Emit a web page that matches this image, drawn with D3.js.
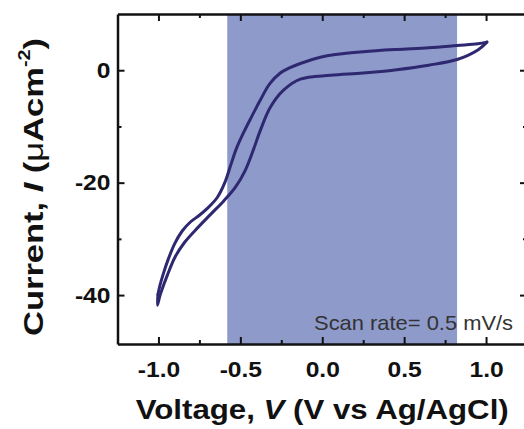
<!DOCTYPE html>
<html>
<head>
<meta charset="utf-8">
<script src="https://cdn.jsdelivr.net/npm/d3@7"></script>
<style>
  body { margin: 0; background: white; }
  text { font-family: "Liberation Sans", Arial, sans-serif; }
</style>
</head>
<body>
<div id="chart"></div>
<script>
// datos (voltametria ciclica)
var xTicks = [-1.0, -0.5, 0.0, 0.5, 1.0];
var xMinor = [-0.75, -0.25, 0.25, 0.75];
var yTicks = [-40, -20, 0];
var yMinor = [-30, -10];

// barrido de retorno (rama superior), de 1.0 V hacia -1.0 V
var vUpper = [1.005, 0.95, 0.823, 0.65, 0.455, 0.25, 0.08, -0.012, -0.134, -0.2, -0.256, -0.32, -0.378, -0.43,
  -0.482, -0.525, -0.56, -0.595, -0.64, -0.695, -0.75, -0.805, -0.855, -0.9, -0.94, -0.968, -0.992, -1.003];
var iUpper = [5.0, 4.7, 4.4, 4.0, 3.7, 3.3, 2.8, 2.3, 1.2, 0.4, -0.5, -2.4, -5.3, -8.2,
  -11.2, -14.0, -17.0, -20.0, -22.6, -24.4, -25.8, -27.0, -28.6, -30.8, -33.6, -36.0, -38.4, -39.9];

// barrido de ida (rama inferior), de -1.0 V hacia 1.0 V
var vLower = [-1.003, -1.006, -0.99, -0.972, -0.945, -0.9, -0.84, -0.76, -0.68, -0.6, -0.53, -0.47, -0.421, -0.378, -0.317,
  -0.238, -0.134, 0.05, 0.25, 0.455, 0.65, 0.823, 0.95, 1.005];
var iLower = [-39.9, -41.8, -40.0, -38.5, -36.4, -33.3, -30.6, -28.0, -25.6, -23.2, -20.8, -17.8, -14.2, -10.7, -6.6,
  -3.6, -1.6, -0.9, -0.5, 0.1, 0.9, 1.9, 3.6, 5.0];

// zona sombreada
var shadeStart = -0.58;
var shadeEnd = 0.823;

var width = 524;
var height = 429;
var margin = { top: 14, right: -3, bottom: 85, left: 117.5 };

var svg = d3.select("#chart")
  .append("svg")
  .attr("width", width)
  .attr("height", height);

var escalaX = d3.scaleLinear()
  .domain([-1.25, 1.25])
  .range([margin.left, width - margin.right]);

var escalaY = d3.scaleLinear()
  .domain([-48.7, 10])
  .range([height - margin.bottom, margin.top]);

// fondo sombreado
svg.append("rect")
  .attr("x", escalaX(shadeStart))
  .attr("y", margin.top)
  .attr("width", escalaX(shadeEnd) - escalaX(shadeStart))
  .attr("height", escalaY.range()[0] - margin.top)
  .style("fill", "#8e9aca");

// curvas
var line = d3.line()
  .x(function (d) { return escalaX(d[0]); })
  .y(function (d) { return escalaY(d[1]); })
  .curve(d3.curveCatmullRom.alpha(0.5));

function pintarRama(vs, is) {
  var puntos = vs.map(function (v, i) { return [v, is[i]]; });
  svg.append("path")
    .datum(puntos)
    .attr("fill", "none")
    .attr("stroke", "#2e2870")
    .attr("stroke-width", 3)
    .attr("stroke-linejoin", "round")
    .attr("stroke-linecap", "round")
    .attr("d", line);
}
pintarRama(vUpper, iUpper);
pintarRama(vLower, iLower);

// ejes
function estiloEje(g) {
  g.select(".domain").attr("stroke", "#111").attr("stroke-width", 2.5);
  g.selectAll(".tick line").attr("stroke", "#111").attr("stroke-width", 2);
}

var y0 = escalaY.range()[0];
var x1 = escalaX.range()[1];

var ejeX = svg.append("g")
  .attr("transform", "translate(0," + y0 + ")")
  .call(d3.axisBottom(escalaX).tickValues(xTicks).tickSizeInner(-7).tickSizeOuter(0)
    .tickPadding(17).tickFormat(d3.format(".1f")));
ejeX.call(estiloEje);
ejeX.selectAll("text")
  .style("font-size", "22px")
  .style("font-weight", "bold")
  .attr("fill", "#111")
  .attr("transform", "scale(1.12,1)")
  .text(function (d) { return d3.format(".1f")(d).replace("−", "-"); });

svg.append("g")
  .attr("transform", "translate(0," + y0 + ")")
  .call(d3.axisBottom(escalaX).tickValues(xMinor).tickSizeInner(-4).tickSizeOuter(0).tickFormat(""))
  .call(estiloEje)
  .select(".domain").remove();

var ejeTop = svg.append("g")
  .attr("transform", "translate(0," + margin.top + ")")
  .call(d3.axisTop(escalaX).tickValues(xTicks).tickSizeInner(-7).tickSizeOuter(0).tickFormat(""));
ejeTop.call(estiloEje);
svg.append("g")
  .attr("transform", "translate(0," + margin.top + ")")
  .call(d3.axisTop(escalaX).tickValues(xMinor).tickSizeInner(-4).tickSizeOuter(0).tickFormat(""))
  .call(estiloEje)
  .select(".domain").remove();

var ejeY = svg.append("g")
  .attr("transform", "translate(" + margin.left + ",0)")
  .call(d3.axisLeft(escalaY).tickValues(yTicks).tickSizeInner(-7).tickSizeOuter(0)
    .tickPadding(7).tickFormat(function (d) { return String(d); }));
ejeY.call(estiloEje);
ejeY.selectAll("text")
  .style("font-size", "22px")
  .style("font-weight", "bold")
  .attr("fill", "#111")
  .attr("transform", "scale(1.12,1)")
  .attr("x", -7 / 1.12);

svg.append("g")
  .attr("transform", "translate(" + margin.left + ",0)")
  .call(d3.axisLeft(escalaY).tickValues(yMinor).tickSizeInner(-4).tickSizeOuter(0).tickFormat(""))
  .call(estiloEje)
  .select(".domain").remove();

svg.append("g")
  .attr("transform", "translate(" + x1 + ",0)")
  .call(d3.axisRight(escalaY).tickValues(yTicks).tickSizeInner(-7).tickSizeOuter(0).tickFormat(""))
  .call(estiloEje);
svg.append("g")
  .attr("transform", "translate(" + x1 + ",0)")
  .call(d3.axisRight(escalaY).tickValues(yMinor).tickSizeInner(-4).tickSizeOuter(0).tickFormat(""))
  .call(estiloEje)
  .select(".domain").remove();

// anotacion
svg.append("text")
  .attr("x", escalaX(1.165))
  .attr("y", escalaY(-46.2))
  .attr("text-anchor", "end")
  .style("font-size", "21px")
  .attr("fill", "#333")
  .attr("textLength", 199)
  .attr("lengthAdjust", "spacingAndGlyphs")
  .text("Scan rate= 0.5 mV/s");

// titulo eje X
var tituloX = svg.append("text")
  .attr("x", escalaX(0))
  .attr("y", 419)
  .attr("text-anchor", "middle")
  .style("font-size", "27px")
  .style("font-weight", "bold")
  .attr("fill", "#111")
  .attr("textLength", 373)
  .attr("lengthAdjust", "spacingAndGlyphs");
tituloX.append("tspan").text("Voltage, ");
tituloX.append("tspan").style("font-style", "italic").text("V");
tituloX.append("tspan").text(" (V vs Ag/AgCl)");

// titulo eje Y
var tituloY = svg.append("text")
  .attr("transform", "translate(43,187) rotate(-90)")
  .attr("text-anchor", "middle")
  .style("font-size", "28px")
  .style("font-weight", "bold")
  .attr("fill", "#111")
  .attr("textLength", 298)
  .attr("lengthAdjust", "spacingAndGlyphs");
tituloY.append("tspan").text("Current, ");
tituloY.append("tspan").style("font-style", "italic").text("I");
tituloY.append("tspan").text(" (");
tituloY.append("tspan").style("font-weight", "normal").text("μ");
tituloY.append("tspan").text("Acm");
tituloY.append("tspan").attr("dy", -13).style("font-size", "16px").text("-2");
tituloY.append("tspan").attr("dy", 13).text(")");
</script>
</body>
</html>
